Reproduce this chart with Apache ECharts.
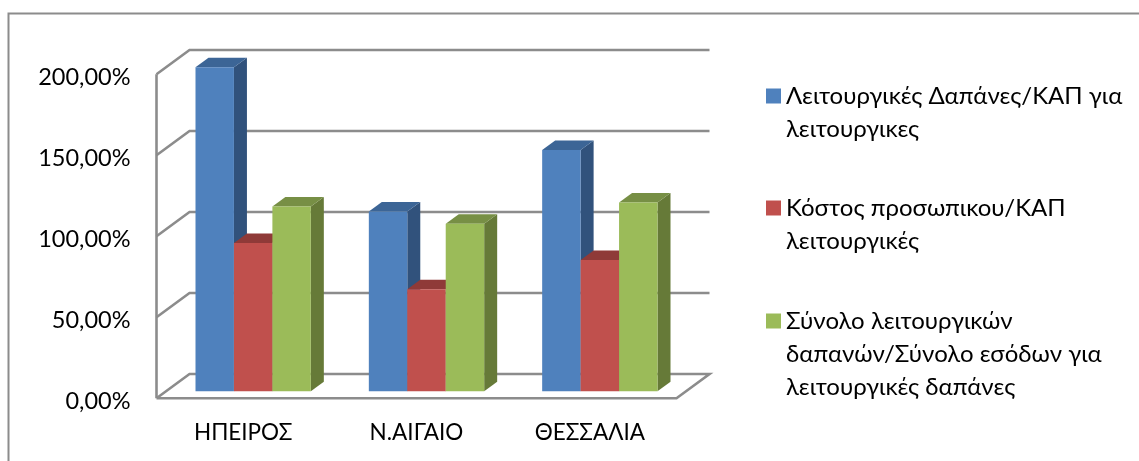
<!DOCTYPE html>
<html><head><meta charset="utf-8">
<style>html,body{margin:0;padding:0;background:#fff;overflow:hidden}#c{width:1139px;height:461px}</style>
<script src="https://cdn.jsdelivr.net/npm/echarts@6/dist/echarts.min.js"></script>
</head><body><div id="c"></div>
<script>
const categories = ['ΗΠΕΙΡΟΣ', 'Ν.ΑΙΓΑΙΟ', 'ΘΕΣΣΑΛΙΑ'];
const operatingCostRatio = [200, 111, 149];
const staffCostRatio = [91.5, 63, 81];
const totalRatio = [114, 103.5, 116.5];
const valueTicks = [0, 50, 100, 150, 200];
const seriesNames = [
  'Λειτουργικές Δαπάνες/ΚΑΠ για\nλειτουργικες',
  'Κόστος προσωπικου/ΚΑΠ\nλειτουργικές',
  'Σύνολο λειτουργικών\nδαπανών/Σύνολο εσόδων για\nλειτουργικές δαπάνες'
];
const FONT = 'Lato, "Open Sans", "Noto Sans", sans-serif';
const WALL = [33, -24.3], BAR_PLANE = [10, -7], BAR_DEPTH = [13, -9.5];
const GRID = '#8c8c8c';
const palettes = [
  {front:'#4f81bd', side:'#31527c', top:'#3c6596'},
  {front:'#c0504d', side:'#7e3432', top:'#8f3a38'},
  {front:'#9bbb59', side:'#667a38', top:'#778f45'}
];
const values = [operatingCostRatio, staffCostRatio, totalRatio];

function wallItem(params, api) {
  const cs = params.coordSys, v = api.value(0), y = api.coord([0, v])[1];
  const x0 = cs.x, x1 = cs.x + cs.width;
  const style = {stroke: GRID, lineWidth: 2.6, fill: null};
  const pts = [[x0, y], [x0 + WALL[0], y + WALL[1]], [x1 + WALL[0], y + WALL[1]]];
  if (v === 0) pts.push([x1, y], [x0, y]);
  const children = [{type:'polyline', shape:{points: pts}, style}];
  if (v === 0) children.push({type:'line', shape:{x1:x0, y1:cs.y, x2:x0, y2:y}, style});
  return {type:'group', children};
}
function barItem(si) {
  return function (params, api) {
    const c = api.value(0), v = api.value(1);
    const top = api.coord([c, v]), base = api.coord([c, 0]);
    const w = api.size([1, 0])[0] * 0.2218;
    const x0 = top[0] + BAR_PLANE[0] + (si - 1.5) * w, x1 = x0 + w;
    const yt = top[1] + BAR_PLANE[1], yb = base[1] + BAR_PLANE[1];
    const dx = BAR_DEPTH[0], dy = BAR_DEPTH[1], p = palettes[si];
    const poly = (pts, fill) => ({type:'polygon', shape:{points: pts}, style:{fill}});
    return {type:'group', children:[
      poly([[x1,yt],[x1+dx,yt+dy],[x1+dx,yb+dy],[x1,yb]], p.side),
      poly([[x0,yt],[x0+dx,yt+dy],[x1+dx,yt+dy],[x1,yt]], p.top),
      poly([[x0,yt],[x1,yt],[x1,yb],[x0,yb]], p.front)
    ]};
  };
}
const LEGEND_LINE = 33;
const legendFirstLine = [96, 208, 321];
const chart = echarts.init(document.getElementById('c'), null, {renderer:'canvas'});
chart.setOption({
  animation: false,
  backgroundColor: '#ffffff',
  grid: {left:156.5, right:1139-676.5, top:74.3, bottom:461-398.3, containLabel:false},
  xAxis: {type:'category', data:categories, axisLine:{show:false}, axisTick:{show:false},
    axisLabel:{color:'#000', fontSize:22.5, fontFamily:FONT, margin:23}},
  yAxis: {type:'value', min:0, max:200, interval:50, axisLine:{show:false}, axisTick:{show:false}, splitLine:{show:false},
    axisLabel:{color:'#000', fontSize:23.5, fontFamily:FONT, margin:26, verticalAlign:'top', lineHeight:6, formatter:v => v.toFixed(2).replace('.', ',') + '%'}},
  legend: seriesNames.map((name, i) => {
    const extra = name.split('\n').length - 1;
    return {
      data:[name], left:766, top:legendFirstLine[i] - LEGEND_LINE / 2 - LEGEND_LINE * extra,
      orient:'vertical', padding:0, selectedMode:false,
      icon:'rect', itemWidth:15, itemHeight:15, itemGap:0,
      formatter:n => '\n'.repeat(extra) + n,
      textStyle:{color:'#000', fontSize:24, fontFamily:FONT, lineHeight:LEGEND_LINE}
    };
  }),
  graphic: [{type:'polyline', silent:true, z:-1, shape:{points:[[8.5,470],[8.5,13.5],[1150,13.5]]},
    style:{stroke:'#8c8c8c', lineWidth:2, fill:null}}],
  series: [
    {type:'custom', name:'wall', renderItem:wallItem, data:valueTicks.map(v => [v]), encode:{y:0}, silent:true, z:1},
    ...seriesNames.map((name, si) => ({
      type:'custom', name, renderItem:barItem(si), z:2 + si,
      itemStyle:{color:palettes[si].front},
      encode:{x:0, y:1},
      data:values[si].map((v, i) => [i, v])
    }))
  ]
});
</script></body></html>
